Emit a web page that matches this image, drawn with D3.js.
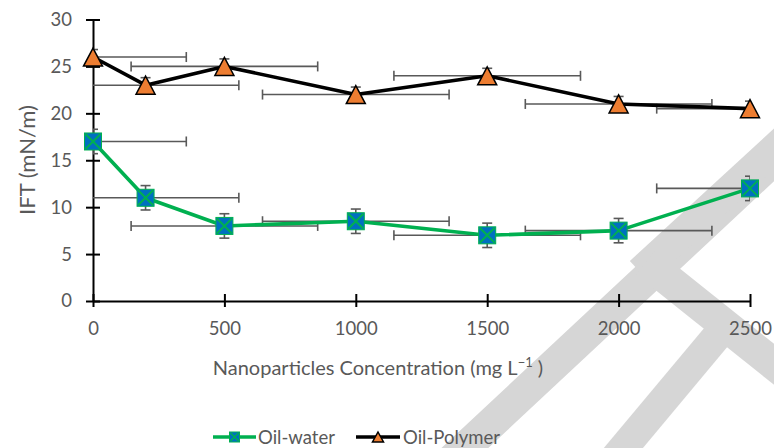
<!DOCTYPE html>
<html><head><meta charset="utf-8">
<script src="https://cdn.jsdelivr.net/npm/d3@7/dist/d3.min.js"></script>
<style>body{margin:0;background:#fff}svg{display:block}</style>
</head><body>
<svg id="c" width="774" height="448"></svg>
<script>
const concentrations = [0, 200, 500, 1000, 1500, 2000, 2500];
const oilWater = [17, 11, 8, 8.5, 7, 7.5, 12];
const oilPolymer = [26, 23, 25, 22, 24, 21, 20.5];
const oilWaterYErr = [1.3, 1.3, 1.3, 1.3, 1.3, 1.3, 1.3];
const oilPolymerYErr = [0.8, 0.8, 0.8, 0.8, 0.8, 0.8, 0.8];
const xErr = [355, 355, 355, 355, 355, 355, 355];
const xTicks = [0, 500, 1000, 1500, 2000, 2500];
const yTicks = [0, 5, 10, 15, 20, 25, 30];
const seriesNames = ["Oil-water", "Oil-Polymer"];

const svg = d3.select("#c");
const font = "Lato, 'Open Sans', sans-serif";
const grey = "#595959";

// watermark (decorative)
const wm = svg.append("g").attr("fill", "#d6d6d6");
function band(x1, y1, x2, y2, w) {
  const dx = x2 - x1, dy = y2 - y1, L = Math.hypot(dx, dy);
  const px = -dy / L * w / 2, py = dx / L * w / 2;
  wm.append("path").attr("d", `M${x1+px},${y1+py}L${x2+px},${y2+py}L${x2-px},${y2-py}L${x1-px},${y1-py}Z`);
}
band(452, 460, 800, 135, 32);
band(640, 272, 800, 125, 30);
band(646, 262, 800, 385, 32);
band(605, 470, 722, 330, 30);

const x = d3.scaleLinear().domain([0, 2500]).range([93, 750]);
const y = d3.scaleLinear().domain([0, 30]).range([301, 19.5]);

// axes
const yAxis = svg.append("g").attr("transform", `translate(${x(0)},0)`)
  .call(d3.axisLeft(y).tickValues(yTicks).tickSize(7).tickPadding(14).tickSizeOuter(0));
yAxis.selectAll(".tick").append("line").attr("x2", 7).attr("stroke", "#000");
const xAxis = svg.append("g").attr("transform", `translate(0,${y(0)})`)
  .call(d3.axisBottom(x).tickValues(xTicks).tickSize(6).tickPadding(15).tickSizeOuter(0).tickFormat(d3.format("d")));
xAxis.selectAll(".tick").append("line").attr("y2", -7).attr("stroke", "#000");
[yAxis, xAxis].forEach(a => {
  a.select(".domain").attr("stroke", "#000").attr("stroke-width", 2);
  a.selectAll(".tick line").attr("stroke", "#000").attr("stroke-width", 2);
  a.selectAll(".tick text").attr("fill", grey).style("font-family", font).style("font-size", "18.5px");
});

// titles
svg.append("text").attr("x", 378).attr("y", 375).attr("text-anchor", "middle")
  .attr("fill", grey).style("font-family", font).style("font-size", "20px")
  .html('Nanoparticles Concentration (mg L<tspan dy="-8" font-size="13">−1</tspan><tspan dy="8"> )</tspan>');
svg.append("text").attr("transform", "translate(35,160) rotate(-90)").attr("text-anchor", "middle")
  .attr("fill", grey).style("font-family", font).style("font-size", "22px").text("IFT (mN/m)");

const clip = svg.append("clipPath").attr("id", "pa").append("rect")
  .attr("x", x(0)).attr("y", 0).attr("width", x(2500) - x(0)).attr("height", y(0));

const seriesList = [
  {vals: oilWater, yerr: oilWaterYErr, color: "#00B050"},
  {vals: oilPolymer, yerr: oilPolymerYErr, color: "#000"}
];

// error bars
const eb = svg.append("g").attr("clip-path", "url(#pa)").attr("stroke", grey).attr("stroke-width", 1.6).attr("fill", "none");
seriesList.forEach(s => {
  concentrations.forEach((c, i) => {
    const v = s.vals[i], cy = y(v), cx = x(c);
    const xl = x(c - xErr[i]), xr = x(c + xErr[i]);
    eb.append("line").attr("x1", xl).attr("x2", xr).attr("y1", cy).attr("y2", cy);
    eb.append("line").attr("x1", xl).attr("x2", xl).attr("y1", cy - 5).attr("y2", cy + 5);
    eb.append("line").attr("x1", xr).attr("x2", xr).attr("y1", cy - 5).attr("y2", cy + 5);
    const yt = y(v + s.yerr[i]), yb = y(v - s.yerr[i]);
    eb.append("line").attr("x1", cx).attr("x2", cx).attr("y1", yt).attr("y2", yb);
    eb.append("line").attr("x1", cx - 5).attr("x2", cx + 5).attr("y1", yt).attr("y2", yt);
    eb.append("line").attr("x1", cx - 5).attr("x2", cx + 5).attr("y1", yb).attr("y2", yb);
  });
});

// lines
const line = d3.line().x((d, i) => x(concentrations[i])).y(d => y(d));
seriesList.forEach(s => {
  svg.append("path").datum(s.vals).attr("d", line).attr("fill", "none")
    .attr("stroke", s.color).attr("stroke-width", 3.6).attr("stroke-linejoin", "round");
});

function square(g, cx, cy, sz) {
  const h = sz / 2;
  g.append("rect").attr("x", cx - h).attr("y", cy - h).attr("width", sz).attr("height", sz)
    .attr("fill", "#0070C0").attr("stroke", "#00B050").attr("stroke-width", 1);
  g.append("path").attr("d", `M${cx-h+1},${cy-h+1}L${cx+h-1},${cy+h-1}M${cx+h-1},${cy-h+1}L${cx-h+1},${cy+h-1}`)
    .attr("stroke", "#00B050").attr("stroke-width", sz > 12 ? 2 : 1.5);
}
function tri(g, cx, cy, w, hgt) {
  g.append("path").attr("d", `M${cx},${cy-hgt/2}L${cx+w/2},${cy+hgt/2}L${cx-w/2},${cy+hgt/2}Z`)
    .attr("fill", "#ED7D31").attr("stroke", "#000").attr("stroke-width", 1.5).attr("stroke-linejoin", "miter");
}
const mk = svg.append("g");
concentrations.forEach((c, i) => square(mk, x(c), y(oilWater[i]), 17));
concentrations.forEach((c, i) => tri(mk, x(c), y(oilPolymer[i]), 19, 18));

// legend
const lg = svg.append("g");
lg.append("line").attr("x1", 213).attr("x2", 256).attr("y1", 437).attr("y2", 437).attr("stroke", "#00B050").attr("stroke-width", 3.6);
square(lg, 234.5, 437, 10);
lg.append("text").attr("x", 258).attr("y", 444).attr("fill", grey).style("font-family", font).style("font-size", "18.5px").text(seriesNames[0]);
lg.append("line").attr("x1", 356).attr("x2", 400).attr("y1", 437).attr("y2", 437).attr("stroke", "#000").attr("stroke-width", 3.6);
tri(lg, 378, 437, 11, 10);
lg.append("text").attr("x", 403).attr("y", 444).attr("fill", grey).style("font-family", font).style("font-size", "18.5px").text(seriesNames[1]);
</script>
</body></html>
